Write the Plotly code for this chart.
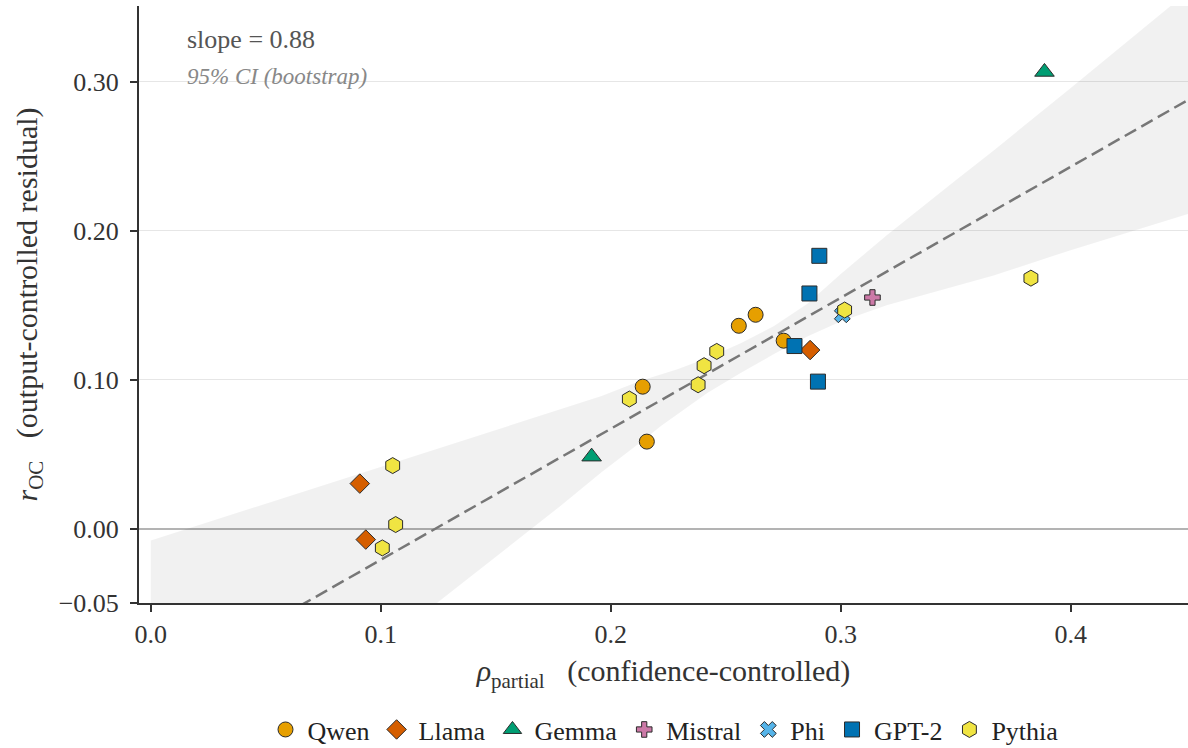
import plotly.graph_objects as go

# ---- data: partial correlation vs. output-controlled residual, per model family ----
qwen_x = [0.2139, 0.2157, 0.2557, 0.2630, 0.2752]
qwen_y = [0.0953, 0.0584, 0.1362, 0.1436, 0.1262]

llama_x = [0.0909, 0.0935, 0.2867]
llama_y = [0.0302, -0.0074, 0.1199]

gemma_x = [0.1917, 0.3886]
gemma_y = [0.0483, 0.3067]

mistral_x = [0.3138]
mistral_y = [0.1552]

phi_x = [0.3007]
phi_y = [0.1436]

gpt2_x = [0.2907, 0.2864, 0.2799, 0.2901]
gpt2_y = [0.1832, 0.1579, 0.1226, 0.0987]

pythia_x = [0.1052, 0.1065, 0.1007, 0.2081, 0.2380, 0.2406, 0.2461, 0.3017, 0.3827]
pythia_y = [0.0423, 0.0027, -0.0130, 0.0870, 0.0966, 0.1094, 0.1190, 0.1468, 0.1682]

# regression fit
slope = 0.88
intercept = -0.109

# bootstrap 95% confidence band
band_x = [0.0, 0.05, 0.10, 0.125, 0.15, 0.178, 0.196, 0.213, 0.222, 0.229, 0.242,
          0.2565, 0.271, 0.2855, 0.30, 0.32, 0.35, 0.3665, 0.40, 0.4422, 0.4513]
band_upper = [-0.008, 0.0167, 0.0414, 0.0538, 0.0661, 0.0803, 0.089, 0.0993, 0.1035, 0.107, 0.1145,
              0.1245, 0.1360, 0.1510, 0.171, 0.197, 0.234, 0.254, 0.296, 0.3497, 0.361]
band_lower = [-0.20, -0.138, -0.077, -0.0494, -0.019, 0.015, 0.0378, 0.058, 0.069, 0.077, 0.091,
              0.1045, 0.1172, 0.129, 0.139, 0.150, 0.163, 0.170, 0.187, 0.207, 0.2114]

x_ticks = [0.0, 0.1, 0.2, 0.3, 0.4]
y_ticks = [-0.05, 0.0, 0.10, 0.20, 0.30]

families = [
    ("Qwen", qwen_x, qwen_y, "circle", "#E69F00", 15),
    ("Llama", llama_x, llama_y, "diamond", "#D55E00", 15),
    ("Gemma", gemma_x, gemma_y, "triangle-up", "#009E73", 17),
    ("Mistral", mistral_x, mistral_y, "cross", "#CC79A7", 13),
    ("Phi", phi_x, phi_y, "x", "#56B4E9", 14),
    ("GPT-2", gpt2_x, gpt2_y, "square", "#0072B2", 15),
    ("Pythia", pythia_x, pythia_y, "hexagon", "#F0E442", 16),
]

SERIF = "'Liberation Serif', 'DejaVu Serif', serif"
X_RANGE = [-0.0051, 0.451]
Y_RANGE = [-0.05, 0.351]

fig = go.Figure()

# confidence band
fig.add_trace(go.Scatter(
    x=band_x + band_x[::-1],
    y=band_upper + band_lower[::-1],
    fill="toself",
    fillcolor="rgba(0,0,0,0.055)",
    line=dict(width=0),
    mode="lines",
    hoverinfo="skip",
    showlegend=False,
))

# fitted line
fit_x = [band_x[0], band_x[-1]]
fit_y = [intercept + slope * v for v in fit_x]
fig.add_trace(go.Scatter(
    x=fit_x, y=fit_y, mode="lines",
    line=dict(color="#777777", width=2.5, dash="13px,6px"),
    hoverinfo="skip", showlegend=False,
))

for name, xs, ys, sym, col, size in families:
    fig.add_trace(go.Scatter(
        x=xs, y=ys, mode="markers", name=name,
        marker=dict(symbol=sym, color=col, size=size,
                    line=dict(color="#2b2b2b", width=1)),
    ))

fig.update_layout(
    width=1188, height=748,
    margin=dict(l=139, r=0, t=6, b=145, autoexpand=False),
    paper_bgcolor="white", plot_bgcolor="white",
    font=dict(family=SERIF, size=25, color="#333333"),
    legend=dict(
        orientation="h", x=0.5, xanchor="center",
        y=-0.212, yanchor="middle",
        font=dict(family=SERIF, size=26, color="#222222"),
        bgcolor="rgba(0,0,0,0)",
        itemwidth=34,
    ),
    annotations=[
        dict(text="slope = 0.88", xref="paper", yref="paper",
             x=(185 - 139) / 1049, y=(603 - 40) / 597,
             xanchor="left", yanchor="middle", showarrow=False,
             font=dict(family=SERIF, size=26, color="#555555")),
        dict(text="<i>95% CI (bootstrap)</i>", xref="paper", yref="paper",
             x=(185 - 139) / 1049, y=(603 - 76) / 597,
             xanchor="left", yanchor="middle", showarrow=False,
             font=dict(family=SERIF, size=23, color="#888888")),
    ],
)

fig.update_xaxes(
    range=X_RANGE, tickvals=x_ticks, tickformat=".1f",
    showgrid=False, zeroline=False,
    showline=True, linecolor="#333333", linewidth=2,
    ticks="outside", ticklen=7, tickwidth=1.5, tickcolor="#333333",
    tickfont=dict(family=SERIF, size=26, color="#333333"),
    title=dict(text="<i>ρ</i><sub>partial</sub>   (confidence-controlled)",
               font=dict(family=SERIF, size=30, color="#333333"), standoff=12),
)

fig.update_yaxes(
    range=Y_RANGE, tickvals=y_ticks, tickformat=".2f",
    showgrid=True, gridcolor="#e6e6e6", gridwidth=1.2,
    zeroline=True, zerolinecolor="#b3b3b3", zerolinewidth=1.6,
    showline=True, linecolor="#333333", linewidth=2,
    ticks="outside", ticklen=7, tickwidth=1.5, tickcolor="#333333",
    ticklabelstandoff=6,
    tickfont=dict(family=SERIF, size=26, color="#333333"),
    title=dict(text="<i>r</i><sub>OC</sub>   (output-controlled residual)",
               font=dict(family=SERIF, size=30, color="#333333"), standoff=12),
)

fig.write_html("out.html")
